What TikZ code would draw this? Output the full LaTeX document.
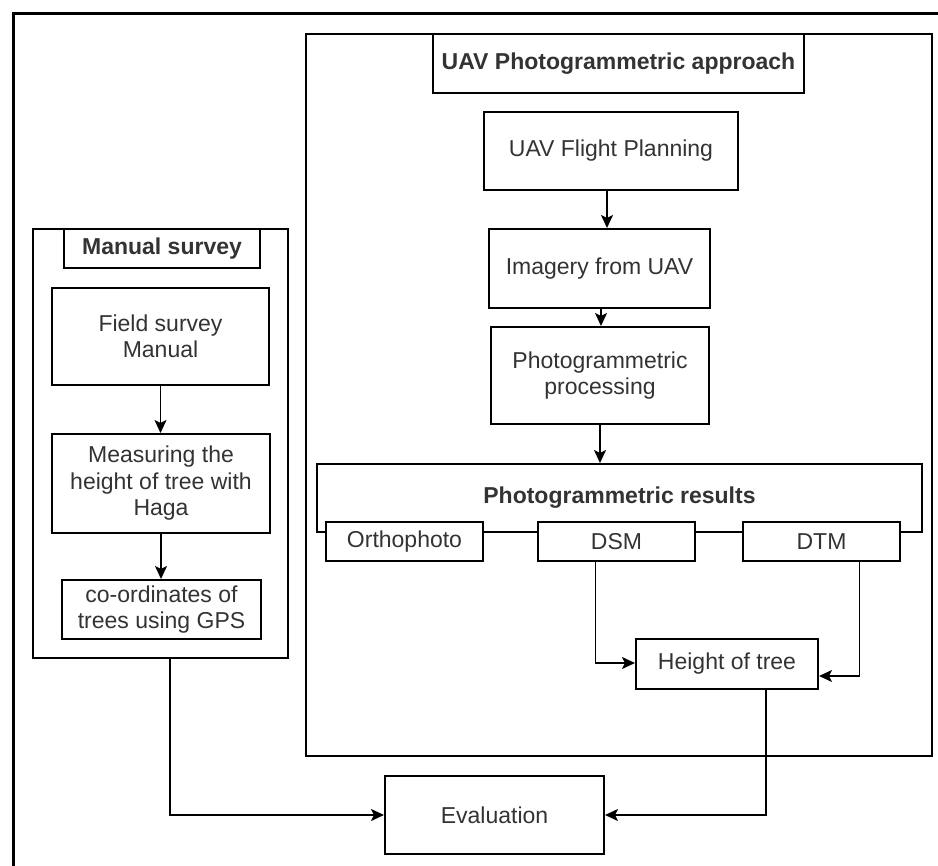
\documentclass[tikz,border=0pt]{standalone}
\usepackage{fontspec}
\setmainfont{Liberation Sans}
\usetikzlibrary{arrows.meta}
\definecolor{txt}{HTML}{333333}
\tikzset{
  box/.style={draw=black, line width=2pt, fill=white, text=txt,
    font=\fontsize{23}{26.5}\selectfont, align=center, inner sep=0pt, anchor=north west},
  titlebox/.style={box, font=\fontsize{23}{26.5}\selectfont\bfseries},
  arr/.style={draw=black, line width=1.8pt, -{Stealth[length=13pt,width=12pt,inset=3pt]}},
  frame/.style={draw=black, line width=3pt}
}
\begin{document}
\begin{tikzpicture}[x=1pt,y=-1pt]
\useasboundingbox (0,0) rectangle (938,866);
% cropped outer frame
\coordinate (fbl) at (13,866);
\coordinate (ftl) at (13,14);
\coordinate (ftr) at (938,14);
\draw[frame] (fbl) -- (ftl) -- (ftr);

% UAV group
\node[box, minimum width=626pt, minimum height=722pt] (uav) at (305,33) {};
\node[titlebox, minimum width=371pt, minimum height=59pt] (uavt) at (432,33) {UAV Photogrammetric approach};
\node[box, minimum width=254pt, minimum height=78pt] (plan) at (483,111) {UAV Flight Planning};
\node[box, minimum width=221pt, minimum height=79pt] (img) at (488,228) {Imagery from UAV};
\node[box, minimum width=218pt, minimum height=97pt] (proc) at (490,326) {Photogrammetric\\processing};
\node[titlebox, minimum width=605pt, minimum height=68pt] (res) at (316,463) {Photogrammetric results};
\node[box, minimum width=157pt, minimum height=39pt] (ortho) at (325,521) {Orthophoto};
\node[box, minimum width=157pt, minimum height=39pt] (dsm) at (537,521) {DSM};
\node[box, minimum width=157pt, minimum height=39pt] (dtm) at (742,521) {DTM};
\node[box, minimum width=182pt, minimum height=50pt] (hot) at (635,638) {Height of tree};

% Manual group
\node[box, minimum width=255pt, minimum height=429pt] (man) at (32,228) {};
\node[titlebox, minimum width=196pt, minimum height=39pt] (mant) at (63,228) {Manual survey};
\node[box, minimum width=217pt, minimum height=97pt] (field) at (51,287) {Field survey\\Manual};
\node[box, minimum width=218pt, minimum height=99pt] (meas) at (51,433) {Measuring the\\height of tree with\\Haga};
\node[box, minimum width=199pt, minimum height=59pt] (coord) at (61,579) {co-ordinates of\\trees using GPS};

% Evaluation
\node[box, minimum width=219pt, minimum height=78pt] (eval) at (384,775) {Evaluation};

% connectors
\draw[arr] ([xshift=-4pt]plan.south) -- ([xshift=-4pt]plan.south |- img.north);
\draw[arr] ([xshift=1.5pt]img.south) -- ([xshift=1.5pt]img.south |- proc.north);
\draw[arr] (proc.south) -- (proc.south |- res.north);
\draw[arr] (field.south) -- (field.south |- meas.north);
\draw[arr] (meas.south) -- (meas.south |- coord.north);
\draw[arr] ([xshift=-21pt]dsm.south) |- ([yshift=1pt]hot.west);
\draw[arr] ([xshift=38pt]dtm.south) |- ([yshift=-12pt]hot.east);
\draw[arr] ([xshift=9.5pt]man.south) |- (eval.west);
\draw[arr] ([xshift=39pt]hot.south) |- (eval.east);
\end{tikzpicture}
\end{document}
